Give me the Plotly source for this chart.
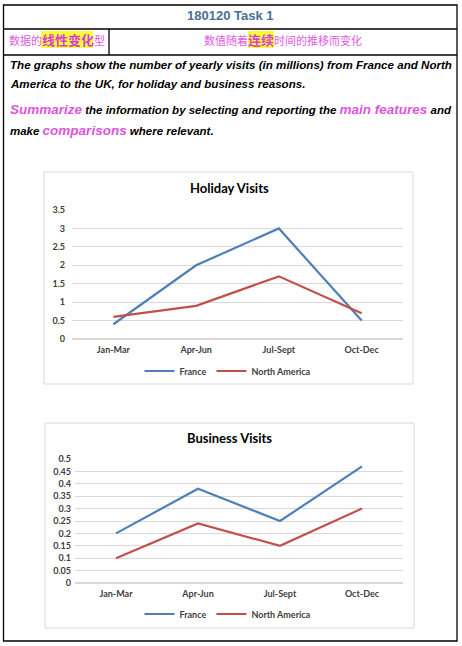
import plotly.graph_objects as go

W, H = 462, 646

quarters = ["Jan-Mar", "Apr-Jun", "Jul-Sept", "Oct-Dec"]
holiday_france = [0.4, 2.0, 3.0, 0.5]
holiday_na = [0.6, 0.9, 1.7, 0.7]
business_france = [0.2, 0.38, 0.25, 0.47]
business_na = [0.1, 0.24, 0.15, 0.3]

BLUE = "#4f7fb8"
RED = "#c0504d"
GRID = "#d9d9d9"
PINK = "#e05ce0"
LABEL = "#404040"


def px(x):
    return x / W


def py(y):
    return 1 - y / H


fig = go.Figure()

# holiday chart
fig.add_trace(go.Scatter(x=quarters, y=holiday_france, name="France", mode="lines",
                         line=dict(color=BLUE, width=2.2), xaxis="x", yaxis="y", legend="legend"))
fig.add_trace(go.Scatter(x=quarters, y=holiday_na, name="North America", mode="lines",
                         line=dict(color=RED, width=2.2), xaxis="x", yaxis="y", legend="legend"))
# business chart
fig.add_trace(go.Scatter(x=quarters, y=business_france, name="France", mode="lines",
                         line=dict(color=BLUE, width=2.2), xaxis="x2", yaxis="y2", legend="legend2"))
fig.add_trace(go.Scatter(x=quarters, y=business_na, name="North America", mode="lines",
                         line=dict(color=RED, width=2.2), xaxis="x2", yaxis="y2", legend="legend2"))

tickfont = dict(family="Lato", size=9, color=LABEL, weight="bold")
xax = dict(type="category", range=[-0.5, 3.5], showgrid=False, showline=False, ticks="",
           tickfont=tickfont, fixedrange=True, automargin=False, ticklabelstandoff=4)
yax = dict(showgrid=True, gridcolor=GRID, gridwidth=1, zeroline=True, zerolinecolor=GRID,
           showline=False, ticks="", tickfont=tickfont, fixedrange=True, automargin=False)

legend_common = dict(orientation="h", xanchor="center", yanchor="middle",
                     font=dict(family="Lato", size=9, color=LABEL, weight="bold"),
                     bgcolor="rgba(0,0,0,0)", itemwidth=30, tracegroupgap=0)

fig.update_layout(
    width=W, height=H,
    margin=dict(l=0, r=0, t=0, b=0, autoexpand=False),
    paper_bgcolor="white", plot_bgcolor="white",
    xaxis=dict(xax, domain=[px(72), px(403)], anchor="y"),
    yaxis=dict(yax, domain=[py(339), py(210)], range=[0, 3.5], dtick=0.5, anchor="x",
               ticklabelstandoff=6),
    xaxis2=dict(xax, domain=[px(75), px(403)], anchor="y2"),
    yaxis2=dict(yax, domain=[py(583), py(459)], range=[0, 0.5], dtick=0.05, anchor="x2",
                ticklabelstandoff=3),
    legend=dict(legend_common, x=px(228), y=py(371)),
    legend2=dict(legend_common, x=px(228), y=py(614)),
    showlegend=True,
)


def box(x0, y0, x1, y1, **kw):
    return dict(type="rect", xref="paper", yref="paper",
                x0=px(x0), x1=px(x1), y0=py(y0), y1=py(y1), **kw)


def seg(x0, y0, x1, y1, **kw):
    return dict(type="line", xref="paper", yref="paper",
                x0=px(x0), x1=px(x1), y0=py(y0), y1=py(y1), **kw)


frame = dict(color="black", width=1.3)
shapes = [
    # outer table frame
    box(3.5, 5, 457, 641, line=frame),
    seg(3.5, 29, 457, 29, line=frame),
    seg(3.5, 55, 457, 55, line=frame),
    seg(109, 29, 109, 55, line=frame),
    # yellow highlights
    box(41, 31, 93, 48, fillcolor="#ffff33", line=dict(width=0), layer="below"),
    box(248, 31, 274, 48, fillcolor="#ffff33", line=dict(width=0), layer="below"),
    # chart frames
    box(44, 172, 413, 384, line=dict(color=GRID, width=1)),
    box(45, 423, 414, 628, line=dict(color=GRID, width=1)),
]
fig.update_layout(shapes=shapes)

arial = "Liberation Sans"
cjk = "Noto Sans CJK SC"


def note(text, x, y, size=11, color="black", family=arial, xanchor="left"):
    fig.add_annotation(text=text, x=px(x), y=py(y), xref="paper", yref="paper",
                       xanchor=xanchor, yanchor="middle", showarrow=False,
                       font=dict(family=family, size=size, color=color))


note("<b>180120 Task 1</b>", 230, 15, size=13, color="#4a7090", xanchor="center")

note("数据的<span style='font-size:13px;color:#d63cd6'><b>线性变化</b></span>型", 7, 39,
     size=11, color=PINK, family=cjk)
note("数值随着<span style='font-size:13px;color:#d63cd6'><b>连续</b></span>时间的推移而变化", 283, 39,
     size=11, color=PINK, family=cjk, xanchor="center")

note("<b><i>The graphs show the number of yearly visits (in millions) from France and North</i></b>",
     8, 64, size=11.6)
note("<b><i>America to the UK, for holiday and business reasons.</i></b>", 8, 84, size=11.6)
note("<b><i><span style='font-size:13.5px;color:#dd55dd'>Summarize</span> the information by selecting "
     "and reporting the <span style='font-size:13.5px;color:#dd55dd'>main features</span> and</i></b>",
     8, 110, size=11.5)
note("<b><i>make <span style='font-size:13.5px;color:#dd55dd'>comparisons</span> where relevant.</i></b>",
     8, 130, size=11.5)

note("<b>Holiday Visits</b>", 229, 188, size=13, color="black", family="Lato", xanchor="center")
note("<b>Business Visits</b>", 229, 438, size=13, color="black", family="Lato", xanchor="center")

# drop the page's default body margin so the figure sits at the window corner
fig.write_html("out.html", post_script="document.body.style.margin='0';",
               config={"displayModeBar": False})
